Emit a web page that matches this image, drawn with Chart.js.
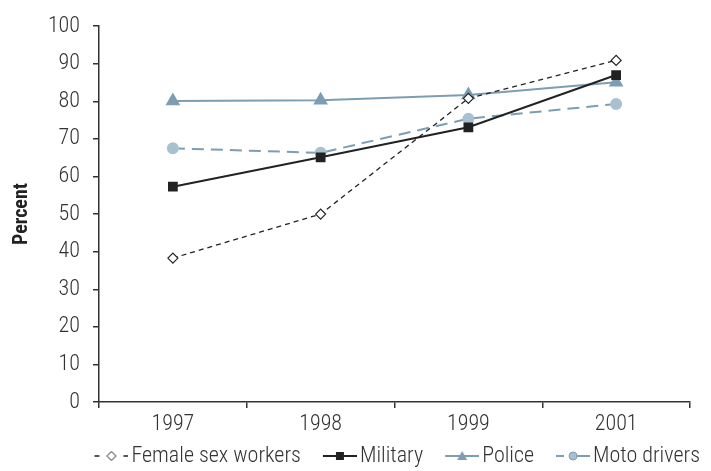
<!DOCTYPE html>
<html>
<head>
<meta charset="utf-8">
<script src="https://cdn.jsdelivr.net/npm/chart.js@4"></script>
<style>
  html, body { margin: 0; padding: 0; background: #fff; }
  #wrap { width: 711px; height: 471px; }
</style>
</head>
<body>
<div id="wrap"><canvas id="trendChart" width="711" height="471"></canvas></div>
<script>
const years = ['1997', '1998', '1999', '2001'];
const sexWorkers = [38.3, 50, 80.8, 90.9];
const military = [57.3, 65.1, 73.1, 87];
const police = [80.1, 80.3, 81.7, 85.1];
const motoDrivers = [67.5, 66.3, 75.4, 79.3];
const yTicks = [0, 10, 20, 30, 40, 50, 60, 70, 80, 90, 100];

const FONT = '"Roboto Condensed", "Liberation Sans Narrow", "Arial Narrow", sans-serif';
const DARK = '#222';
const TEXT = '#333';
const BLUE = '#7c9db2';
const LIGHT = '#a8c1d1';

// legend swatch: line + marker drawn on a small canvas, icon sits at the right end
function swatch(kind) {
    const c = document.createElement('canvas');
    c.width = 61; c.height = 14;
    const g = c.getContext('2d');
    const x0 = 27, x1 = 61, cx = 44;
    if (kind === 'fsw') {
        g.strokeStyle = DARK; g.lineWidth = 1.3;
        g.beginPath(); g.moveTo(x0, 7); g.lineTo(x0 + 5, 7); g.moveTo(x1 - 5, 7); g.lineTo(x1, 7); g.stroke();
        g.beginPath(); g.moveTo(cx, 2.5); g.lineTo(cx + 4.5, 7); g.lineTo(cx, 11.5); g.lineTo(cx - 4.5, 7); g.closePath();
        g.fillStyle = '#fff'; g.fill(); g.lineWidth = 1; g.stroke();
    } else if (kind === 'mil') {
        g.strokeStyle = DARK; g.lineWidth = 2;
        g.beginPath(); g.moveTo(x0, 7); g.lineTo(x1, 7); g.stroke();
        g.fillStyle = DARK; g.fillRect(cx - 4, 3, 8, 8);
    } else if (kind === 'pol') {
        g.strokeStyle = BLUE; g.lineWidth = 2;
        g.beginPath(); g.moveTo(x0, 7); g.lineTo(x1, 7); g.stroke();
        g.fillStyle = BLUE;
        g.beginPath(); g.moveTo(cx, 2); g.lineTo(cx + 5, 11); g.lineTo(cx - 5, 11); g.closePath(); g.fill();
    } else {
        g.strokeStyle = BLUE; g.lineWidth = 2;
        g.beginPath(); g.moveTo(x0, 7); g.lineTo(x0 + 8, 7); g.moveTo(cx + 4, 7); g.lineTo(x1, 7); g.stroke();
        g.beginPath(); g.arc(cx, 7, 4, 0, Math.PI * 2);
        g.fillStyle = LIGHT; g.fill(); g.lineWidth = 1; g.strokeStyle = BLUE; g.stroke();
    }
    return c;
}

const ctx = document.getElementById('trendChart').getContext('2d');
new Chart(ctx, {
    type: 'line',
    data: {
        labels: years,
        datasets: [{
            label: 'Female sex workers',
            data: sexWorkers,
            borderColor: DARK,
            borderWidth: 1.3,
            borderDash: [5, 4],
            pointStyle: 'rectRot',
            pointRadius: 5,
            pointBackgroundColor: '#fff',
            pointBorderColor: DARK,
            pointBorderWidth: 1.2,
            legendIcon: swatch('fsw')
        }, {
            label: 'Military',
            data: military,
            borderColor: DARK,
            borderWidth: 2,
            pointStyle: 'rect',
            pointRadius: 5.5,
            pointBackgroundColor: DARK,
            pointBorderColor: DARK,
            legendIcon: swatch('mil')
        }, {
            label: 'Police',
            data: police,
            borderColor: BLUE,
            borderWidth: 2,
            pointStyle: 'triangle',
            pointRadius: 6.5,
            pointBackgroundColor: BLUE,
            pointBorderColor: BLUE,
            legendIcon: swatch('pol')
        }, {
            label: 'Moto drivers',
            data: motoDrivers,
            borderColor: BLUE,
            borderWidth: 2,
            borderDash: [12, 7],
            pointStyle: 'circle',
            pointRadius: 5,
            pointBackgroundColor: LIGHT,
            pointBorderColor: LIGHT,
            legendIcon: swatch('moto')
        }]
    },
    options: {
        responsive: false,
        animation: false,
        layout: { padding: { top: 23, right: 8, left: 10, bottom: -6 } },
        plugins: {
            tooltip: { enabled: false },
            legend: {
                position: 'bottom',
                align: 'end',
                labels: {
                    color: TEXT,
                    font: { family: FONT, size: 22, weight: 300 },
                    usePointStyle: true,
                    pointStyleWidth: 45,
                    padding: 3,
                    generateLabels: chart => chart.data.datasets.map((ds, i) => ({
                        text: ds.label,
                        pointStyle: ds.legendIcon,
                        fillStyle: 'transparent',
                        strokeStyle: 'transparent',
                        lineWidth: 0,
                        fontColor: TEXT,
                        datasetIndex: i
                    }))
                }
            }
        },
        scales: {
            x: {
                offset: true,
                border: { color: '#333', width: 1.5 },
                grid: { offset: true, drawOnChartArea: false, tickLength: 6, color: '#333', lineWidth: 1.5 },
                ticks: { color: TEXT, font: { family: FONT, size: 22, weight: 300 }, padding: 3 },
                afterFit: s => { s.height = 40; }
            },
            y: {
                min: 0,
                max: 100,
                afterBuildTicks: s => { s.ticks = yTicks.map(v => ({ value: v })); },
                border: { color: '#333', width: 1.5 },
                grid: { drawOnChartArea: false, tickLength: 6, color: '#333', lineWidth: 1.5 },
                ticks: { color: TEXT, font: { family: FONT, size: 22, weight: 300 }, padding: 13 },
                title: {
                    display: true,
                    text: 'Percent',
                    color: DARK,
                    font: { family: FONT, size: 20, weight: 'bold' },
                    padding: { top: 0, bottom: 10 }
                },
                afterFit: s => { s.width = 89; }
            },
            // empty spacer on the right so the plot ends where the legend does not
            spacer: {
                type: 'linear',
                position: 'right',
                grid: { display: false },
                ticks: { display: false },
                border: { display: false },
                afterFit: s => { s.width = 13; }
            }
        }
    }
});
</script>
</body>
</html>
